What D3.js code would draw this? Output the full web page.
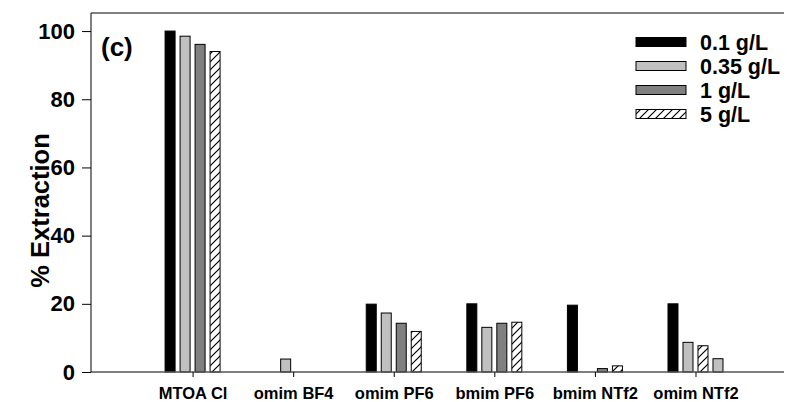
<!DOCTYPE html>
<html>
<head>
<meta charset="utf-8">
<script src="https://cdn.jsdelivr.net/npm/d3@7"></script>
<style>
  body { margin: 0; background: #fff; }
  svg { display: block; font-family: Arial, "Liberation Sans", sans-serif; }
</style>
</head>
<body>
<div id="chart"></div>
<script>
const categories = ["MTOA Cl", "omim BF4", "omim PF6", "bmim PF6", "bmim NTf2", "omim NTf2"];
const seriesNames = ["0.1 g/L", "0.35 g/L", "1 g/L", "5 g/L"];
const conc01 = [100, 0, 19.9, 20, 19.6, 20];
const conc035 = [98.5, 3.8, 17.3, 13.1, 0, 8.7];
const conc1 = [96.1, 0, 14.3, 14.3, 1.0, 7.7];
const conc5 = [94.0, 0, 11.9, 14.6, 1.8, 3.9];
const yTicks = [0, 20, 40, 60, 80, 100];

const width = 787, height = 402;
const margin = { top: 13, left: 91, right: 3, bottom: 30 };

const series = [conc01, conc035, conc1, conc5];
const fills = ["#000000", "#c0c0c0", "#808080", "url(#hatch)"];
// the source plot draws the last two fills of the omim NTf2 group swapped
const fillOverride = { "omim NTf2|2": "url(#hatch)", "omim NTf2|3": "#c0c0c0" };

const svg = d3.select("#chart").append("svg")
  .attr("width", width)
  .attr("height", height);

const defs = svg.append("defs");
const pat = defs.append("pattern")
  .attr("id", "hatch")
  .attr("patternUnits", "userSpaceOnUse")
  .attr("width", 8).attr("height", 8);
pat.append("rect").attr("width", 8).attr("height", 8).attr("fill", "#fff");
pat.append("path")
  .attr("d", "M-1,9 L9,-1 M-2,2 L2,-2 M6,10 L10,6")
  .attr("stroke", "#000")
  .attr("stroke-width", 1.2);

const y = d3.scaleLinear()
  .domain([0, 105.3])
  .range([372, margin.top]);

const x = d3.scaleLinear()
  .domain([0, 6.88])
  .range([margin.left + 1, width - margin.right]);

const slot = 15, barW = 10;
const barData = [];
categories.forEach((c, i) => {
  series.forEach((s, j) => {
    if (s[i] > 0) barData.push({ cat: c, i, j, v: s[i] });
  });
});

svg.append("g")
  .selectAll("rect")
  .data(barData)
  .join("rect")
  .attr("x", (d) => x(d.i + 1) + (d.j - 1.5) * slot - barW / 2)
  .attr("width", barW)
  .attr("y", (d) => y(d.v))
  .attr("height", (d) => y(0) - y(d.v))
  .attr("fill", (d) => fillOverride[d.cat + "|" + d.j] || fills[d.j])
  .attr("stroke", "#000")
  .attr("stroke-width", 1);

// top frame line
svg.append("line")
  .attr("x1", margin.left).attr("x2", width - margin.right)
  .attr("y1", y(105.3)).attr("y2", y(105.3))
  .attr("stroke", "#000");

// x axis
svg.append("g")
  .attr("transform", `translate(0,${y(0)})`)
  .call(d3.axisBottom(x).tickValues(d3.range(1, 7)).tickSize(5).tickFormat((d) => categories[d - 1]))
  .call((g) => g.select(".domain").attr("stroke", "#555").attr("stroke-width", 1.3).attr("d", `M${margin.left},0H${width - margin.right}`))
  .call((g) => g.selectAll(".tick line").attr("stroke", "#000"))
  .call((g) => g.selectAll(".tick text")
    .attr("y", 15)
    .attr("font-family", "Arial, 'Liberation Sans', sans-serif")
    .attr("font-size", "16.5px")
    .attr("font-weight", "bold")
    .attr("fill", "#000"));

// y axis
svg.append("g")
  .attr("transform", `translate(${margin.left},0)`)
  .call(d3.axisLeft(y).tickValues(yTicks).tickSize(9).tickPadding(7))
  .call((g) => g.select(".domain").attr("stroke", "#000").attr("d", `M0,${y(0)}V${margin.top}`))
  .call((g) => g.selectAll(".tick line").attr("stroke", "#000"))
  .call((g) => g.selectAll(".tick text")
    .attr("font-family", "Arial, 'Liberation Sans', sans-serif")
    .attr("font-size", "22px")
    .attr("font-weight", "bold")
    .attr("fill", "#000"));

svg.append("text")
  .attr("transform", `translate(49,${(y(0) + margin.top) / 2 + 18}) rotate(-90)`)
  .attr("text-anchor", "middle")
  .attr("font-size", "25.5px")
  .attr("font-weight", "bold")
  .text("% Extraction");

svg.append("text")
  .attr("x", 101).attr("y", 56)
  .attr("font-size", "26px")
  .attr("font-weight", "bold")
  .text("(c)");

// legend
const legend = svg.append("g").attr("transform", "translate(636,42)");
const rows = legend.selectAll("g")
  .data(seriesNames)
  .join("g")
  .attr("transform", (d, i) => `translate(0,${i * 24})`);
rows.append("rect")
  .attr("x", 0).attr("y", -4.5)
  .attr("width", 50).attr("height", 9)
  .attr("fill", (d, i) => fills[i])
  .attr("stroke", "#000");
rows.append("text")
  .attr("x", 64).attr("y", 7.5)
  .attr("font-size", "21.5px")
  .attr("font-weight", "bold")
  .text((d) => d);
</script>
</body>
</html>
